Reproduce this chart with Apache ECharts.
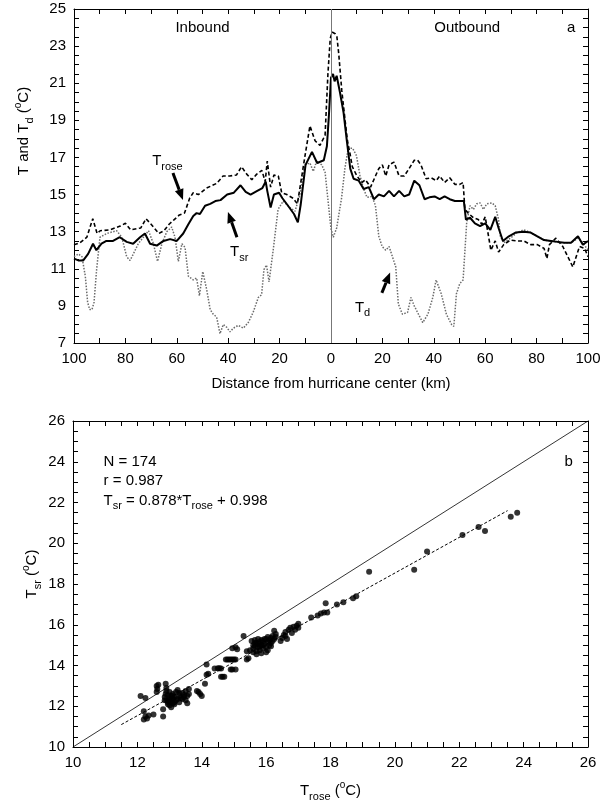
<!DOCTYPE html>
<html><head><meta charset="utf-8">
<script src="https://cdn.jsdelivr.net/npm/echarts/dist/echarts.min.js"></script>
<style>html,body{margin:0;padding:0;background:#fff}#c{width:613px;height:803px}</style>
</head><body><div id="c"></div><script>
// ---------- DATA (distance km: inbound negative, outbound positive; T in deg C) ----------
const troseData = [[-100,12.3],[-97.7,12.4],[-95,12.7],[-92.7,13.7],[-91,12.9],[-89.8,13.05],[-86,13.1],[-82,13.3],[-80,13.45],[-78,13.1],[-74,13.2],[-72,13.7],[-70,13.4],[-67,12.9],[-65,13.05],[-63,13.4],[-61,13.65],[-59,13.9],[-57,14.0],[-55,14.8],[-53.6,15.1],[-51.6,15.0],[-48.4,15.35],[-44.5,15.6],[-42,16.0],[-39.4,16.0],[-36.8,16.05],[-34.8,16.5],[-32.8,16.1],[-30.8,15.8],[-28.9,16.1],[-26.9,16.3],[-25.6,15.7],[-24.8,16.8],[-23.5,15.4],[-22.2,16.05],[-20.5,16.0],[-19.2,15.1],[-17.2,15.0],[-14.7,14.8],[-13.1,14.5],[-12.1,15.35],[-10.1,17.1],[-8.2,18.7],[-6.2,17.9],[-4.3,17.65],[-2.3,18.2],[-1.2,21.5],[-0.3,23.4],[0.4,23.76],[1.6,23.67],[2.3,23.5],[3.0,22.6],[4.2,20.6],[5.4,19.1],[6.4,17.9],[7.4,17.2],[8.3,16.5],[10.1,16.0],[12,15.65],[13.4,15.8],[15.4,15.4],[17.3,16.0],[18.6,16.4],[20,16.6],[21.3,16.0],[22.6,16.6],[24.5,16.75],[26.5,16.0],[28.5,16.0],[30.4,16.4],[32.4,16.85],[33.7,16.85],[35,16.6],[37,15.85],[39,15.9],[41,15.75],[42.3,16.0],[44.2,15.65],[46.2,15.9],[48.2,15.55],[50.1,15.55],[51.4,15.65],[52.1,14.2],[53.4,14.0],[55.4,13.75],[57.3,13.65],[58.7,13.4],[60,13.8],[61.3,12.75],[62.2,12.0],[63.9,12.5],[65.2,11.9],[67.2,12.3],[69.8,12.55],[72.4,12.5],[75,12.5],[77.7,12.3],[80.3,12.3],[82.9,12.1],[84,11.55],[85,12.3],[87.5,12.65],[90.2,12.2],[94.1,11.1],[96.7,12.2],[98.7,12.1],[100,11.65]];
const tsrData = [[-100,11.55],[-98.3,11.45],[-96.4,11.45],[-94.5,11.8],[-92.6,12.35],[-91.3,12.0],[-89.3,12.35],[-87.4,12.5],[-84.8,12.5],[-82.2,12.7],[-79.5,12.45],[-77,12.35],[-74.3,12.7],[-72.4,12.9],[-70.4,12.35],[-67.8,12.25],[-65.2,12.5],[-62.6,12.6],[-60,12.5],[-57.5,12.9],[-55.5,13.4],[-53.6,13.85],[-52.3,14.0],[-51,13.95],[-49,14.4],[-47,14.5],[-45,14.65],[-43,14.7],[-40.4,15.0],[-37.8,15.1],[-35.2,15.5],[-33.2,15.15],[-31.3,15.0],[-28.7,15.2],[-26.7,15.35],[-25.4,15.7],[-24.8,15.2],[-23.5,14.3],[-22.2,15.0],[-20.2,15.1],[-18.9,14.8],[-17,14.45],[-14.4,13.95],[-12.9,13.5],[-11.8,14.45],[-9.9,16.6],[-7.4,17.3],[-5.4,16.7],[-2.8,16.85],[-1.6,17.6],[-0.8,19.3],[0,21.3],[0.8,21.5],[1.4,21.1],[2.2,21.4],[3.5,20.5],[4.9,19.4],[6.2,17.85],[7.5,16.4],[8.8,15.85],[10.8,15.75],[12.7,15.3],[14.7,15.4],[16.7,14.75],[18.6,15.0],[20.6,14.9],[22.6,15.2],[24.5,14.9],[26.5,15.2],[28.5,14.9],[30.4,15.0],[32.4,15.75],[34.4,15.5],[36.4,14.75],[38.3,14.85],[40.3,14.9],[42.3,14.75],[44.2,14.9],[46.2,14.75],[48.2,14.65],[50.1,14.65],[51.7,14.65],[52.5,13.65],[54.1,13.75],[56,13.45],[58,13.3],[60,13.45],[62,13.1],[63.9,13.8],[65.2,13.2],[66.9,12.5],[69.2,12.75],[71.8,12.95],[75,13.0],[77.7,12.95],[80.3,12.75],[82.9,12.55],[85.6,12.5],[88.2,12.45],[90.8,12.4],[93.4,12.4],[96.1,12.75],[98,12.3],[100,12.5]];
const tdData = [[-100,11.65],[-98.3,11.8],[-96.9,11.65],[-95.6,10.6],[-94.7,9.2],[-93.9,8.8],[-93,8.8],[-92.2,9.2],[-91.2,10.95],[-89.9,12.7],[-87.3,12.9],[-83.4,13.05],[-81.4,12.7],[-79.5,11.65],[-78.2,11.45],[-76.9,11.8],[-75,12.35],[-73,12.7],[-71,13.05],[-69.1,12.35],[-67.5,11.4],[-65.8,12.35],[-63.9,13.0],[-62,13.25],[-60.7,12.7],[-59.4,11.4],[-58,12.35],[-56.8,12.15],[-55.5,10.6],[-53.6,10.4],[-52.3,10.5],[-51.2,9.55],[-49.9,10.85],[-48.4,9.9],[-47,8.8],[-45.8,8.55],[-44.5,8.4],[-43.2,7.5],[-41.9,8.0],[-40.6,7.85],[-39.3,7.6],[-38,7.8],[-36.1,7.95],[-34.1,7.8],[-32.2,8.1],[-30.3,8.65],[-28.3,9.45],[-27,9.6],[-26.1,10.95],[-25.1,11.2],[-24.1,10.3],[-22.5,12.0],[-20.6,14.2],[-18.6,14.65],[-16,14.3],[-14,14.1],[-12.1,15.0],[-10.1,16.6],[-8.2,16.7],[-6.9,16.25],[-5.6,16.8],[-3.6,16.6],[-2.3,16.2],[-1.1,14.6],[0,13.15],[0.9,12.7],[2.2,13.2],[4.1,14.8],[5.4,16.4],[6.7,17.5],[8.4,17.5],[9.9,17.1],[11.3,16.0],[12.7,15.3],[14,14.85],[16,14.9],[17.3,14.4],[18.6,12.75],[19.9,12.2],[21.3,12.0],[22.6,12.2],[23.9,11.65],[25.2,11.1],[26.2,9.1],[27.8,8.55],[29.8,8.65],[31.1,9.45],[32.4,9.0],[34.4,8.45],[35.7,8.1],[37.7,8.55],[39.6,9.45],[40.9,10.4],[42.9,9.65],[44.9,8.55],[46.9,8.0],[47.8,7.9],[48.8,9.65],[50.1,10.2],[51.4,10.4],[52.8,13.5],[54.1,14.4],[55.4,14.2],[56.7,14.5],[58,14.55],[59.3,14.2],[60.6,14.5],[62.6,14.55],[63.9,14.4],[65.2,13.65],[65.9,12.75],[67.2,12.4],[69.8,12.65],[72.4,12.95],[75,13.1],[77.7,12.95],[80.3,12.75],[82.9,12.55],[85.6,12.5],[89.5,12.4],[93.4,12.4],[96.1,12.65],[98,12.4],[100,12.0]];
// scatter: [Trose, Tsr]
const scatterData = [
[12.1,12.5],[12.25,12.4],[12.2,11.75],[12.25,11.5],[12.35,11.55],[12.2,11.35],[12.3,11.4],[12.5,11.6],[12.6,13.0],[12.62,12.85],[12.6,12.7],[12.65,13.05],
[12.8,11.85],[12.8,11.5],[12.88,13.1],[12.9,12.9],[12.88,12.6],[12.85,12.45],[12.9,12.3],[12.95,12.2],[13.0,12.4],[13.0,12.05],[13.05,12.25],[13.05,11.95],[13.1,12.6],[13.1,12.35],[13.15,12.1],[13.15,12.45],[13.2,12.7],[13.2,12.3],[12.95,12.55],[13.0,12.7],[12.9,12.75],[13.05,12.5],[12.85,12.3],[13.1,12.15],[12.95,12.1],[13.0,12.3],[13.1,12.5],[13.15,12.2],
[13.25,12.8],[13.3,12.5],[13.3,12.2],[13.35,12.4],[13.4,12.65],[13.45,12.55],[13.5,12.3],[13.5,12.75],[13.55,12.5],[13.6,12.85],[13.55,12.15],[13.4,12.35],[13.9,12.7],[13.95,12.6],[14.0,12.5],[13.85,12.75],[13.3,12.65],[13.45,12.45],[13.6,12.6],[13.25,12.35],
[14.1,13.1],[14.15,13.55],[14.15,14.05],[14.4,13.85],[14.5,13.87],[14.55,13.87],[14.6,13.45],[14.65,13.45],[14.7,13.45],[14.8,14.3],[14.85,14.3],[14.9,14.3],[14.95,14.3],[15.0,14.3],[15.05,14.3],[14.9,13.8],[14.95,13.8],[15.05,13.8],[14.95,14.85],[15.05,14.9],[15.1,14.8],[14.75,14.3],[14.6,13.85],[14.2,13.6],
[15.3,15.45],[15.4,14.3],[15.45,14.35],[15.4,14.7],[15.5,14.75],[15.55,15.2],[15.6,15.0],[15.6,14.85],[15.65,15.25],[15.65,14.95],[15.7,15.1],[15.7,14.7],[15.75,15.3],[15.75,14.9],[15.8,15.15],[15.8,14.75],[15.85,15.0],[15.85,15.25],[15.9,14.85],[15.9,15.2],[15.95,15.05],[16.0,15.3],[16.0,14.9],[16.05,15.15],[16.05,14.75],[16.1,15.25],[16.1,15.0],[16.15,15.35],[16.15,14.95],[16.2,15.2],[16.2,15.45],[16.25,15.3],[16.25,15.7],[16.3,15.4],[15.6,14.65],[15.7,14.55],[15.85,14.6],[16.0,14.65],[15.75,15.05],[15.95,15.3],[16.05,15.4],[15.65,15.1],[15.9,15.0],[16.15,15.1],[15.8,14.95],[16.3,15.55],
[16.45,15.2],[16.5,15.35],[16.55,15.5],[16.6,15.65],[16.65,15.3],[16.7,15.75],[16.75,15.85],[16.8,15.6],[16.85,15.9],[16.95,15.95],[17.0,16.05],[17.0,15.85],[16.6,15.45],[16.9,15.75],
[17.4,16.35],[17.6,16.45],[17.7,16.55],[17.8,16.6],[17.9,16.6],[17.85,17.05],[18.2,17.0],[18.4,17.1],[18.7,17.3],[18.8,17.4],[19.2,18.6],
[20.6,18.7],[21.0,19.6],[22.1,20.4],[22.6,20.8],[22.8,20.6],[23.6,21.3],[23.8,21.5]];
const identityLine = [[10,10],[26,26]];
const fitLine = [[11.5,11.1],[23.5,21.6]];

// ---------- STYLE ----------
const FONT = "'Liberation Sans', Arial, Helvetica, sans-serif";
const FS = 15;
const rich = {
  m: {fontFamily: FONT, fontSize: FS, color: '#000', lineHeight: 22, verticalAlign: 'middle'},
  s: {fontFamily: FONT, fontSize: 11, color: '#000', lineHeight: 11, verticalAlign: 'bottom'},
  u: {fontFamily: FONT, fontSize: 10, color: '#000', lineHeight: 10, verticalAlign: 'top'}
};

function ax(o) {
  const base = {
    type: 'value',
    axisLine: {show: true, onZero: false, lineStyle: {color: '#000', width: 1}},
    axisTick: {show: true, inside: true, length: 5, lineStyle: {color: '#000', width: 1}},
    minorTick: {show: true, splitNumber: o.minor, length: 5, lineStyle: {color: '#000', width: 1}},
    splitLine: {show: false},
    minorSplitLine: {show: false},
    axisLabel: {show: o.labels !== false, color: '#000', fontFamily: FONT, fontSize: FS, margin: 8,
      showMinLabel: true, showMaxLabel: true, formatter: o.fmt},
  };
  delete o.minor; delete o.labels; delete o.fmt;
  return Object.assign(base, o);
}

const chart = echarts.init(document.getElementById('c'), null, {renderer: 'canvas'});
const option = {
  animation: false,
  backgroundColor: '#fff',
  grid: [
    {left: 74, top: 9, width: 514, height: 334},
    {left: 73, top: 421, width: 515, height: 326}
  ],
  xAxis: [
    ax({gridIndex: 0, position: 'bottom', min: -100, max: 100, interval: 20, minor: 2, fmt: v => String(Math.abs(v)),
        name: 'Distance from hurricane center (km)', nameLocation: 'middle', nameGap: 33,
        nameTextStyle: {fontFamily: FONT, fontSize: FS, color: '#000'}}),
    ax({gridIndex: 0, position: 'top', min: -100, max: 100, interval: 20, minor: 2, labels: false}),
    ax({gridIndex: 1, position: 'bottom', min: 10, max: 26, interval: 2, minor: 4,
        name: '{m|T}{s|rose}{m| (}{u|o}{m|C)}', nameLocation: 'middle', nameGap: 33,
        nameTextStyle: {rich: rich}}),
    ax({gridIndex: 1, position: 'top', min: 10, max: 26, interval: 2, minor: 4, labels: false})
  ],
  yAxis: [
    ax({gridIndex: 0, position: 'left', min: 7, max: 25, interval: 2, minor: 4}),
    ax({gridIndex: 0, position: 'right', min: 7, max: 25, interval: 2, minor: 4, labels: false}),
    ax({gridIndex: 1, position: 'left', min: 10, max: 26, interval: 2, minor: 4}),
    ax({gridIndex: 1, position: 'right', min: 10, max: 26, interval: 2, minor: 4, labels: false})
  ],
  series: [
    {name: 'Td', type: 'line', xAxisIndex: 0, yAxisIndex: 0, data: tdData, showSymbol: false, symbol: 'none',
     lineStyle: {color: '#6a6a6a', width: 1.5, type: [1.5, 1.5]},
     markLine: {silent: true, symbol: 'none', label: {show: false},
       lineStyle: {color: '#777', width: 1, type: 'solid'}, data: [{xAxis: 0}]}},
    {name: 'Trose', type: 'line', xAxisIndex: 0, yAxisIndex: 0, data: troseData, showSymbol: false, symbol: 'none',
     lineStyle: {color: '#000', width: 1.6, type: [4, 2.5]}},
    {name: 'Tsr', type: 'line', xAxisIndex: 0, yAxisIndex: 0, data: tsrData, showSymbol: false, symbol: 'none',
     lineStyle: {color: '#000', width: 2}},
    {name: 'oneToOne', type: 'line', xAxisIndex: 2, yAxisIndex: 2, data: identityLine, showSymbol: false, symbol: 'none',
     lineStyle: {color: '#000', width: 0.8}},
    {name: 'fit', type: 'line', xAxisIndex: 2, yAxisIndex: 2, data: fitLine, showSymbol: false, symbol: 'none',
     lineStyle: {color: '#000', width: 1, type: [3, 2]}},
    {name: 'pts', type: 'scatter', xAxisIndex: 2, yAxisIndex: 2, data: scatterData, symbol: 'circle', symbolSize: 6,
     itemStyle: {color: '#000'}, z: 5}
  ]
};
chart.setOption(option);

// ---------- ANNOTATIONS (anchored in data coordinates) ----------
function px(g, p) { return chart.convertToPixel({gridIndex: g}, p); }
function txt(g, p, text, align, extra) {
  const q = px(g, p);
  return Object.assign({type: 'text', x: q[0], y: q[1], z: 10,
    style: {text: text, rich: rich, font: FS + 'px ' + FONT, fill: '#000', align: align || 'left', verticalAlign: 'middle'}}, extra || {});
}
function arrow(g, from, to) {
  const a = px(g, from), b = px(g, to);
  const dx = b[0] - a[0], dy = b[1] - a[1], L = Math.hypot(dx, dy);
  const ux = dx / L, uy = dy / L, hl = 11, hw = 4.5;
  const bx = b[0] - ux * hl, by = b[1] - uy * hl;
  return [
    {type: 'line', z: 10, shape: {x1: a[0], y1: a[1], x2: bx, y2: by}, style: {stroke: '#000', lineWidth: 3}},
    {type: 'polygon', z: 10, shape: {points: [[b[0], b[1]], [bx - uy * hw, by + ux * hw], [bx + uy * hw, by - ux * hw]]}, style: {fill: '#000'}}
  ];
}
const graphics = [
  txt(0, [-50, 24.0], '{m|Inbound}', 'center'),
  txt(0, [53, 24.0], '{m|Outbound}', 'center'),
  txt(0, [93.5, 24.0], '{m|a}', 'center'),
  txt(0, [-69.6, 16.8], '{m|T}{s|rose}', 'left'),
  txt(0, [-39.3, 11.9], '{m|T}{s|sr}', 'left'),
  txt(0, [9.3, 8.9], '{m|T}{s|d}', 'left'),
  ...arrow(0, [-61.5, 16.16], [-57.6, 14.7]),
  ...arrow(0, [-36.6, 12.7], [-40.1, 14.06]),
  ...arrow(0, [19.8, 9.7], [23.0, 10.8]),
  txt(1, [10.95, 24.0], '{m|N = 174}', 'left'),
  txt(1, [10.95, 23.05], '{m|r = 0.987}', 'left'),
  txt(1, [10.95, 22.1], '{m|T}{s|sr}{m| = 0.878*T}{s|rose}{m| + 0.998}', 'left'),
  txt(1, [25.4, 24.0], '{m|b}', 'center'),
  // rotated y-axis names
  {type: 'text', x: 24, y: 131, rotation: Math.PI / 2, z: 10,
   style: {text: '{m|T and T}{s|d}{m| (}{u|o}{m|C)}', rich: rich, align: 'center', verticalAlign: 'middle'}},
  {type: 'text', x: 32, y: 574, rotation: Math.PI / 2, z: 10,
   style: {text: '{m|T}{s|sr}{m| (}{u|o}{m|C)}', rich: rich, align: 'center', verticalAlign: 'middle'}}
];
chart.setOption({graphic: graphics});
</script></body></html>
